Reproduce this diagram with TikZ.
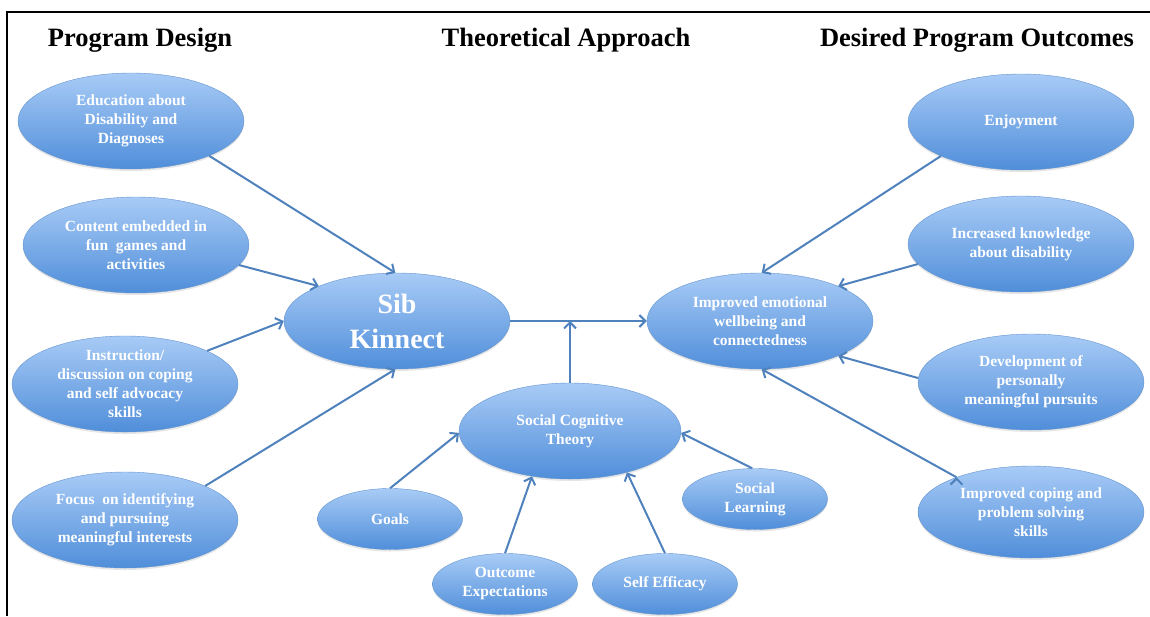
\documentclass[tikz,border=0pt]{standalone}
\usepackage{fontspec}
\setmainfont{Liberation Serif}
\usetikzlibrary{shapes.geometric,arrows.meta,shadows}
\definecolor{ovaltop}{RGB}{168,203,246}
\definecolor{ovalbot}{RGB}{80,142,218}
\definecolor{ovalrim}{RGB}{100,148,206}
\definecolor{arrowblue}{RGB}{79,129,189}

\begin{document}
\begin{tikzpicture}[x=1pt,y=-1pt,
                    big oval/.style={ellipse,draw=ovalrim,top color=ovaltop,bottom color=ovalbot,
                      text=white,align=center,inner sep=0pt,
                      font=\bfseries\fontsize{15.5}{19}\selectfont,
                      minimum width=226pt,minimum height=96pt,
                      drop shadow={shadow xshift=0pt,shadow yshift=-2pt,opacity=0.2}},
                    small oval/.style={big oval,minimum width=145pt,minimum height=61pt},
                    heading/.style={font=\bfseries\fontsize{26.5}{30}\selectfont},
                    link/.style={draw=arrowblue,line width=2pt,-{Straight Barb[length=6pt,width=12pt]}}
                   ]
  \useasboundingbox (0,0) rectangle (1150,616);
  \draw[line width=1.5pt] (7,616) -- (7,12) -- (1150,12);

  \node[heading] (design) at (140,40) {Program Design};
  \node[heading] (theory) at (566,40) {Theoretical Approach};
  \node[heading] (outcomes) at (977,40) {Desired Program Outcomes};

  \node[big oval] (edu) at (131,121) {Education about\\Disability and\\Diagnoses};
  \node[big oval] (fun) at (136,245) {Content embedded in\\fun~ games and\\activities};
  \node[big oval] (coping) at (125,384) {Instruction/\\discussion on coping\\and self advocacy\\skills};
  \node[big oval] (focus) at (125,520) {Focus~ on identifying\\and pursuing\\meaningful interests};

  \node[big oval,font=\bfseries\fontsize{28}{35}\selectfont] (sib) at (397,321) {Sib\\Kinnect};
  \node[big oval,minimum width=222pt] (sct) at (570,431) {Social Cognitive\\Theory};
  \node[small oval] (goals) at (390,519) {Goals};
  \node[small oval] (expect) at (505,584) {Outcome\\Expectations};
  \node[small oval] (efficacy) at (665,584) {Self Efficacy};
  \node[small oval] (learning) at (755,499) {Social\\Learning};

  \node[big oval] (wellbeing) at (760,321) {Improved emotional\\wellbeing and\\connectedness};
  \node[big oval] (enjoy) at (1021,122) {Enjoyment};
  \node[big oval] (knowledge) at (1021,244) {Increased knowledge\\about disability};
  \node[big oval] (pursuits) at (1031,382) {Development of\\personally\\meaningful pursuits};
  \node[big oval,minimum height=92pt] (solving) at (1031,512) {Improved coping and\\problem solving\\skills};

  \path[link]
   (edu.-24) edge (sib.92)
   (fun.-11) edge (sib.156)
   (coping.22) edge (sib.180)
   (focus.23) edge (sib.268)
   (sib.east) edge (wellbeing.west)
   (sct.north) edge (sct.north |- sib.east)
   (goals.north) edge (sct.181)
   (expect.north) edge (sct.230)
   (efficacy.north) edge (sct.-36)
   (learning.95) edge (sct.-1)
   (enjoy.203) edge (wellbeing.88)
   (knowledge.191) edge (wellbeing.24)
   (pursuits.178) edge (wellbeing.-24)
   (solving.155) edge (wellbeing.-88);
\end{tikzpicture}
\end{document}
